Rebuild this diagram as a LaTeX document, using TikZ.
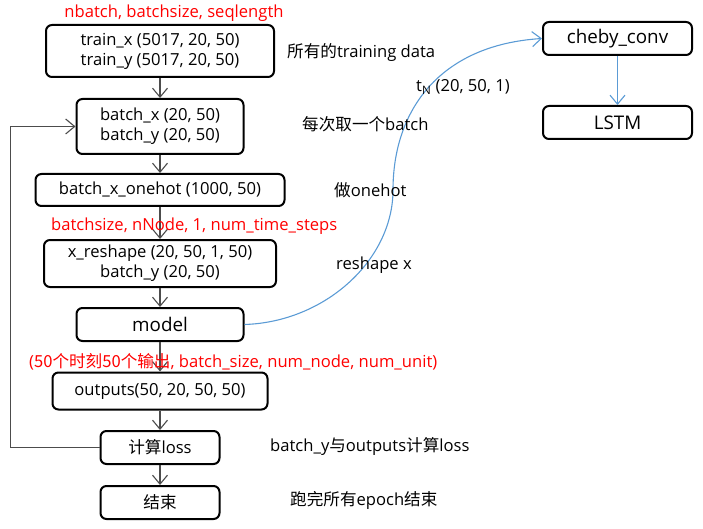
\documentclass[tikz,border=0pt]{standalone}
\usepackage{fontspec}
\setmainfont{Open Sans}
\newfontfamily\cjk{Noto Sans CJK SC}
\usetikzlibrary{arrows.meta}
\definecolor{lineblue}{RGB}{91,155,213}
\begin{document}
\begin{tikzpicture}[x=1pt,y=-1pt,
  box/.style={draw=black, line width=2pt, rounded corners=6pt, inner sep=0pt, align=center, font=\fontsize{16.6}{20}\selectfont},
  bigbox/.style={box, font=\fontsize{18.8}{20}\selectfont},
  flow/.style={draw=black!70, line width=1.1pt, -{Straight Barb[length=9pt,width=15pt,line width=1.1pt]}},
  blueflow/.style={draw=lineblue, line width=1.1pt, -{Straight Barb[length=9pt,width=15pt,line width=1.1pt]}},
  lbl/.style={inner sep=0pt, anchor=west, font=\fontsize{16.6}{18}\selectfont},
  redlbl/.style={lbl, text=red}
]
\useasboundingbox (0,0) rectangle (703,529);

\node[box, minimum width=228pt, minimum height=52pt] (train) at (160,51) {train\_x (5017, 20, 50)\\train\_y (5017, 20, 50)};
\node[box, minimum width=167pt, minimum height=55pt] (batch) at (160,126.5) {batch\_x (20, 50)\\batch\_y (20, 50)};
\node[box, minimum width=249pt, minimum height=32pt] (onehot) at (160,190) {batch\_x\_onehot (1000, 50)};
\node[box, minimum width=232pt, minimum height=47pt] (reshape) at (160,263.5) {x\_reshape (20, 50, 1, 50)\\batch\_y (20, 50)};
\node[bigbox, minimum width=167pt, minimum height=33pt] (model) at (160,324.5) {model};
\node[box, minimum width=215pt, minimum height=37pt] (outputs) at (160,391) {outputs(50, 20, 50, 50)};
\node[box, minimum width=119pt, minimum height=33pt] (loss) at (160,447.5) {{\cjk 计算}loss};
\node[box, minimum width=119pt, minimum height=33pt] (finish) at (160,502.5) {{\cjk 结束}};
\node[bigbox, minimum width=149pt, minimum height=33pt] (cheby) at (617.5,38.5) {cheby\_conv};
\node[bigbox, minimum width=149pt, minimum height=33pt] (lstm) at (617.5,122.5) {LSTM};

\draw[flow] (train.south) -- (batch.north);
\draw[flow] (batch.south) -- (onehot.north);
\draw[flow] (onehot.south) -- (reshape.north);
\draw[flow] (reshape.south) -- (model.north);
\draw[flow] (model.south) -- (outputs.north);
\draw[flow] (outputs.south) -- (loss.north);
\draw[flow] (loss.south) -- (finish.north);

\coordinate (loopc) at (10,447.5);
\draw[flow, line width=1pt] (loss.west) -- (loopc) |- (batch.west);

\coordinate (bend) at (393,190);
\draw[blueflow] (model.east) .. controls (325,322) and (393,260) .. (bend) .. controls (393,110) and (440,45) .. (cheby.west);
\draw[blueflow] (cheby.south) -- (lstm.north);

\node[redlbl, anchor=center] (r1) at (174,13) {nbatch, batchsize, seqlength};
\node[redlbl] (r2) at (51,226) {batchsize, nNode, 1, num\_time\_steps};
\node[redlbl] (r3) at (29,362) {({\cjk 50个时刻50个输出}, batch\_size, num\_node, num\_unit)};

\node[lbl] (l1) at (287,52) {{\cjk 所有的}training data};
\node[lbl] (l2) at (302,124) {{\cjk 每次取一个}batch};
\node[lbl] (l3) at (334,190) {{\cjk 做}onehot};
\node[lbl] (l4) at (336,265) {reshape x};
\node[lbl] (l5) at (270,446) {batch\_y{\cjk 与}outputs{\cjk 计算}loss};
\node[lbl] (l6) at (290,500) {{\cjk 跑完所有}epoch{\cjk 结束}};
\node[lbl] (tn) at (416,87) {t\textsubscript{N} (20, 50, 1)};
\end{tikzpicture}
\end{document}
